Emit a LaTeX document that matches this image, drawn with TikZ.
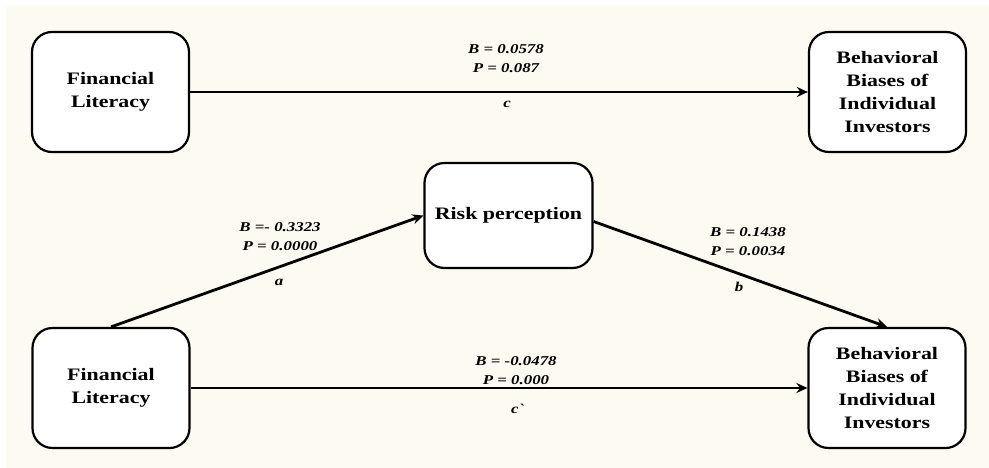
\documentclass[tikz,border=0pt]{standalone}
\usepackage{fontspec}
\setmainfont{Liberation Serif}[FakeStretch=1.25]
\usetikzlibrary{arrows.meta}
\definecolor{paper}{RGB}{253,250,242}

\begin{document}
\begin{tikzpicture}[
                x=1pt, y=-1pt,
                box/.style={
                    draw=black,
                    fill=white,
                    rectangle,
                    rounded corners=20pt,
                    line width=2.2pt,
                    minimum width=157pt,
                    minimum height=120pt,
                    align=center,
                    font=\fontsize{17.5}{23}\selectfont\bfseries
                },
                midbox/.style={
                    box,
                    minimum width=168pt,
                    minimum height=105pt
                },
                coef/.style={
                    align=center,
                    inner sep=0pt,
                    font=\fontsize{13.5}{19}\selectfont\bfseries\itshape
                },
                arrow/.style={
                    -{Stealth[length=11pt,width=10pt]},
                    line width=2.8pt
                }
            ]
                \useasboundingbox (0,0) rectangle (989,468);
                \fill[white] (0,0) rectangle (989,468);
                \fill[paper] (6,6) rectangle (989,468);

                \node[box] (litTop) at (110.5,92) {Financial\\Literacy};
                \node[box] (biasTop) at (887.5,92) {Behavioral\\Biases of\\Individual\\Investors};
                \node[midbox] (risk) at (508.5,215.5) {Risk perception};
                \node[box] (litBot) at (111,388) {Financial\\Literacy};
                \node[box] (biasBot) at (887,388) {Behavioral\\Biases of\\Individual\\Investors};

                \node[coef] (cCoef) at (506,59) {B = 0.0578\\P = 0.087};
                \node[coef] (cLab) at (507,104) {c};
                \node[coef] (aCoef) at (280,237) {B =- 0.3323\\P = 0.0000};
                \node[coef] (aLab) at (279,282) {a};
                \node[coef] (bCoef) at (748,242) {B = 0.1438\\P = 0.0034};
                \node[coef] (bLab) at (739,287) {b};
                \node[coef] (cpCoef) at (516,371) {B = -0.0478\\P = 0.000};
                \node[coef] (cpLab) at (517,409) {c\textasciigrave};

                \draw[arrow] (litTop) -- (biasTop);
                \draw[arrow] (litBot.north) -- (risk.west);
                \draw[arrow] ([yshift=-6pt]risk.east) -- (biasBot.north);
                \draw[arrow] (litBot) -- (biasBot);
        \end{tikzpicture}
\end{document}
